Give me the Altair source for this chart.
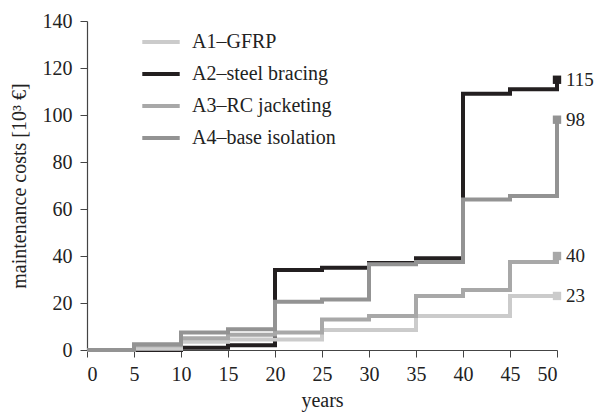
import altair as alt
import pandas as pd

years = [0, 5, 10, 15, 20, 25, 30, 35, 40, 45, 50]
series_names = ["A1–GFRP", "A2–steel bracing", "A3–RC jacketing", "A4–base isolation"]
a1 = [0, 0.5, 3.5, 4.5, 4.5, 8.5, 8.5, 14.5, 14.5, 23, 23]
a2 = [0, 0, 1, 2, 34, 35, 37, 39, 109, 111, 115]
a3 = [0, 2, 5, 6.5, 7.5, 13, 14.5, 23, 25.5, 37.5, 40]
a4 = [0, 2.5, 7.5, 8.8, 20.5, 21.5, 36.5, 37.5, 64, 65.5, 98]
end_labels = ["23", "115", "40", "98"]
colors = ["#cbcbcb", "#231f20", "#a8a8a8", "#939393"]

values = [a1, a2, a3, a4]
rows = []
for name, vals in zip(series_names, values):
    for y, v in zip(years, vals):
        rows.append({"year": y, "cost": v, "series": name})
df = pd.DataFrame(rows)
ends = pd.DataFrame({
    "year": [years[-1]] * 4,
    "cost": [v[-1] for v in values],
    "series": series_names,
    "label": end_labels,
})

FONT = "Liberation Serif"
color_scale = alt.Scale(domain=series_names, range=colors)

x = alt.X("year:Q", scale=alt.Scale(domain=[0, 50], nice=False),
          axis=alt.Axis(values=years, title="years", grid=False, labelPadding=7,
                        titlePadding=6))
y = alt.Y("cost:Q", scale=alt.Scale(domain=[0, 140], nice=False),
          axis=alt.Axis(values=[0, 20, 40, 60, 80, 100, 120, 140],
                        title="maintenance costs [10³ €]", grid=False,
                        labelPadding=8, titlePadding=13))

layers = []
draw_order = ["A2–steel bracing", "A1–GFRP", "A3–RC jacketing", "A4–base isolation"]
for i, name in enumerate(draw_order):
    enc = dict(x=x, y=y, color=alt.Color("series:N", scale=color_scale,
               legend=alt.Legend(title=None, orient="none", legendX=53, legendY=0,
                                 symbolType="stroke", symbolStrokeWidth=4,
                                 symbolSize=1400, labelFont=FONT, labelFontSize=20,
                                 labelColor="#222", rowPadding=1, labelOffset=10,
                                 values=series_names)
               if i == 0 else None))
    layers.append(
        alt.Chart(df).transform_filter(alt.datum.series == name)
        .mark_line(interpolate="step-after", strokeWidth=4, strokeJoin="miter")
        .encode(**enc)
    )

markers = alt.Chart(ends).mark_square(size=70, opacity=1).encode(
    x="year:Q", y="cost:Q",
    color=alt.Color("series:N", scale=color_scale, legend=None))
texts = alt.Chart(ends).mark_text(align="left", dx=9, font=FONT, fontSize=19,
                                  color="#222").encode(
    x="year:Q", y="cost:Q", text="label:N")

chart = alt.layer(*layers, markers, texts).properties(
    width=470, height=329,
    autosize=alt.AutoSizeParams(type="none"),
    padding={"left": 79, "top": 13, "right": 37, "bottom": 62},
).configure_view(stroke=None).configure_axis(
    labelFont=FONT, titleFont=FONT, labelFontSize=20, titleFontSize=20,
    labelColor="#222", titleColor="#222", titleFontWeight="normal",
    domainColor="#444", tickColor="#444", tickSize=7, domainWidth=1.2,
)

chart.save("out.html", embed_options={"renderer": "svg", "actions": False})
